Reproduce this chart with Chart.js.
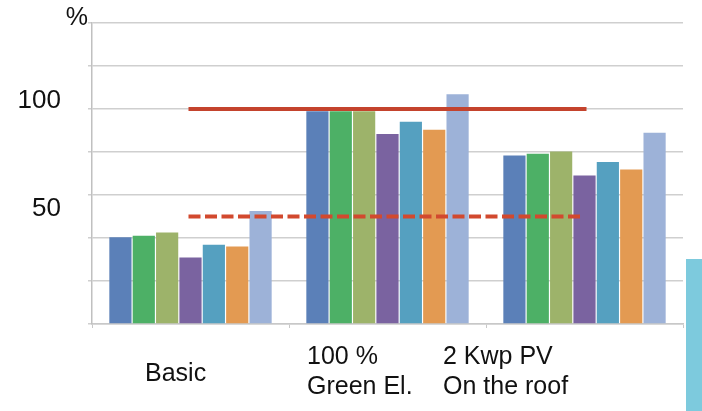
<!DOCTYPE html>
<html>
<head>
<meta charset="utf-8">
<script src="https://cdn.jsdelivr.net/npm/chart.js@4/dist/chart.umd.min.js"></script>
<style>
  html, body { margin: 0; padding: 0; background: #ffffff; }
  #wrap { position: relative; width: 702px; height: 411px; overflow: hidden; }
  #chart { position: absolute; left: 0; top: 0; }
  #sidebar { position: absolute; left: 686px; top: 259px; width: 16px; height: 152px; background: #7dcadd; }
</style>
</head>
<body>
<div id="wrap">
  <canvas id="chart" width="702" height="411"></canvas>
  <div id="sidebar"></div>
</div>
<script>
// Scenario categories (multi-line labels)
const categories = [["Basic"], ["100 %", "Green El."], ["2 Kwp PV", "On the roof"]];

// Seven bar series, one value per scenario (%)
const series1 = [40.3, 99.0, 78.4];
const series2 = [41.0, 99.0, 79.2];
const series3 = [42.6, 99.0, 80.2];
const series4 = [30.9, 88.4, 69.1];
const series5 = [36.9, 94.1, 75.3];
const series6 = [36.1, 90.3, 71.9];
const series7 = [52.6, 106.9, 88.9];

// Reference levels drawn as horizontal lines
const levelFull = [100, 100, 100];
const levelHalf = [50, 50, 50];

// Y axis ticks: gridlines every 20, labels only at 50 and 100
const yTicks = [0, 20, 40, 50, 60, 80, 100, 120, 140];
const yLabels = [50, 100];

const barColors = ["#5b80b8", "#4db066", "#9db36a", "#7a63a0", "#55a0c0", "#e39a52", "#9db2d8"];
const barSeries = [series1, series2, series3, series4, series5, series6, series7];

const FONT = "'Liberation Sans', Arial, sans-serif";

// "%" unit above the value axis
const percentTitle = {
  id: "percentTitle",
  afterDraw(chart) {
    const ctx = chart.ctx;
    const area = chart.chartArea;
    ctx.save();
    ctx.font = "25px " + FONT;
    ctx.fillStyle = "#111111";
    ctx.textAlign = "right";
    ctx.textBaseline = "middle";
    ctx.fillText("%", area.left - 4, area.top - 5);
    ctx.restore();
  }
};

// Category captions: left-aligned text blocks placed relative to each category
const captionShift = [-45.5, -80.5, -141.5];
const categoryCaptions = {
  id: "categoryCaptions",
  afterDraw(chart) {
    const ctx = chart.ctx;
    const xs = chart.scales.x;
    const lineH = 30;
    ctx.save();
    ctx.font = "25px " + FONT;
    ctx.fillStyle = "#111111";
    ctx.textAlign = "left";
    ctx.textBaseline = "middle";
    categories.forEach((lines, i) => {
      const x = xs.getPixelForTick(i) + captionShift[i];
      const blockTop = xs.top + 33;
      const startY = lines.length === 1 ? blockTop + lineH / 2 + 2 : blockTop;
      lines.forEach((t, k) => ctx.fillText(t, x, startY + k * lineH));
    });
    ctx.restore();
  }
};

const datasets = [];
datasets.push({
  type: "line",
  data: levelFull,
  borderColor: "#c4432d",
  borderWidth: 4,
  borderCapStyle: "square",
  pointRadius: 0,
  fill: false,
  order: 0
});
datasets.push({
  type: "line",
  data: levelHalf,
  borderColor: "#d2492e",
  borderWidth: 4,
  borderDash: [8, 8.5],
  borderCapStyle: "square",
  pointRadius: 0,
  fill: false,
  order: 0
});
barSeries.forEach((vals, i) => {
  datasets.push({
    type: "bar",
    label: "S" + (i + 1),
    data: vals,
    backgroundColor: barColors[i],
    borderWidth: 0,
    barPercentage: 0.95,
    categoryPercentage: 0.83,
    order: 1
  });
});

new Chart(document.getElementById("chart"), {
  data: { labels: categories, datasets: datasets },
  options: {
    responsive: false,
    animation: false,
    devicePixelRatio: 1,
    layout: { padding: { top: 23, right: 19, left: 0, bottom: 0 } },
    plugins: { legend: { display: false }, tooltip: { enabled: false } },
    scales: {
      x: {
        type: "category",
        offset: true,
        grid: {
          offset: true,
          drawOnChartArea: false,
          drawTicks: true,
          tickLength: 4,
          color: "#c8c8c8",
          lineWidth: 1
        },
        border: { color: "#c8c8c8", width: 1.5 },
        ticks: { display: false },
        afterFit(scale) {
          scale.height = 87;
          scale.paddingLeft = 0;
          scale.paddingRight = 0;
        }
      },
      y: {
        min: 0,
        max: 140,
        afterBuildTicks(scale) { scale.ticks = yTicks.map(v => ({ value: v })); },
        grid: {
          color: (ctx) => (ctx.tick && ctx.tick.value === 50) ? "rgba(0,0,0,0)" : "#cfcfcf",
          lineWidth: 1.5,
          drawTicks: true,
          tickLength: 4
        },
        border: { color: "#c0c0c0", width: 1.5 },
        ticks: {
          color: "#111111",
          font: { family: FONT, size: 26 },
          padding: 27,
          autoSkip: false,
          labelOffset: -8,
          callback: (value) => yLabels.includes(value) ? String(value) : ""
        },
        afterFit(scale) {
          scale.width = 92;
          scale.paddingTop = 0;
          scale.paddingBottom = 0;
        }
      }
    }
  },
  plugins: [percentTitle, categoryCaptions]
});
</script>
</body>
</html>
